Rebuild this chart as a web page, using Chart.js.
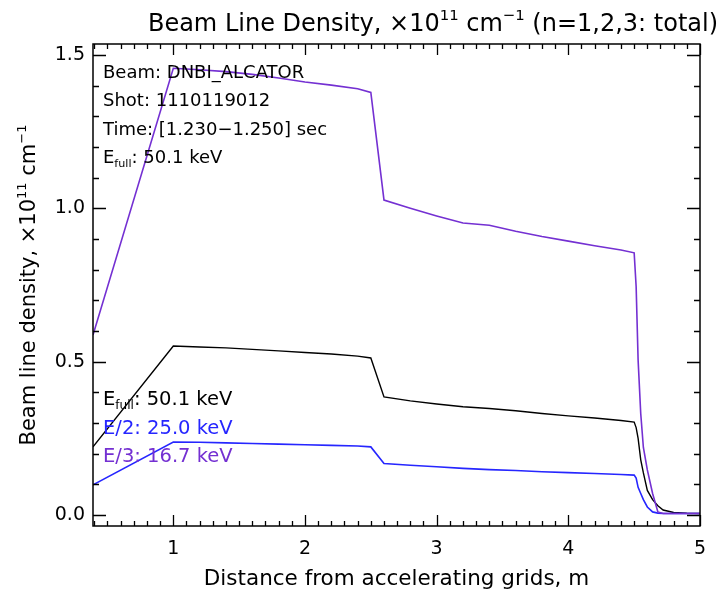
<!DOCTYPE html>
<html>
<head>
<meta charset="utf-8">
<script src="https://cdn.jsdelivr.net/npm/chart.js@4"></script>
<style>
  html, body { margin: 0; padding: 0; background: #fff; }
  #wrap { width: 722px; height: 592px; }
</style>
</head>
<body>
<div id="wrap"><canvas id="chart" width="722" height="592"></canvas></div>
<script>
// distance from accelerating grids, m
const xs = [0.39, 1.0, 1.2, 1.4, 1.6, 1.8, 2.0, 2.2, 2.4, 2.5, 2.6, 2.8, 3.0, 3.2, 3.4, 3.6, 3.8, 4.0,
  4.2, 4.4, 4.5, 4.515, 4.53, 4.55, 4.57, 4.6, 4.64, 4.68, 4.72, 4.8, 4.9, 5.0];

// beam line density, 1e11 cm^-1
const eFull = [0.222, 0.551, 0.548, 0.545, 0.540, 0.535, 0.530, 0.525, 0.518, 0.512, 0.385, 0.372, 0.362,
  0.353, 0.347, 0.340, 0.331, 0.323, 0.316, 0.308, 0.303, 0.285, 0.25, 0.18, 0.137, 0.08, 0.05, 0.03,
  0.016, 0.008, 0.006, 0.005];
const eHalf = [0.098, 0.238, 0.237, 0.235, 0.233, 0.231, 0.229, 0.227, 0.225, 0.222, 0.168, 0.162, 0.157,
  0.152, 0.148, 0.145, 0.141, 0.138, 0.135, 0.132, 0.130, 0.12, 0.09, 0.07, 0.05, 0.026, 0.01, 0.006,
  0.005, 0.005, 0.005, 0.005];
const eThird = [0.587, 1.457, 1.452, 1.446, 1.437, 1.425, 1.412, 1.402, 1.390, 1.378, 1.027, 1.000, 0.975,
  0.952, 0.945, 0.925, 0.908, 0.893, 0.878, 0.864, 0.855, 0.745, 0.505, 0.33, 0.22, 0.147, 0.07, 0.01,
  0.005, 0.005, 0.005, 0.005];

const xLabels = [1, 2, 3, 4, 5];
const yLabels = [0.0, 0.5, 1.0, 1.5];

const BLACK = "#000000";
const BLUE = "#2626ff";
const PURPLE = "#7430d2";
const FONT = "'DejaVu Sans', sans-serif";

function pts(ys) {
  return xs.map((x, i) => ({ x: x, y: ys[i] }));
}

// text with super/subscript pieces
function richWidth(ctx, parts, size) {
  let w = 0;
  parts.forEach(p => {
    const s = p.sup || p.sub ? size * 0.62 : size;
    ctx.font = s + "px " + FONT;
    w += ctx.measureText(p.t).width;
  });
  return w;
}

function drawRich(ctx, parts, x, y, size, color, align) {
  const w = richWidth(ctx, parts, size);
  let cx = align === "center" ? x - w / 2 : align === "right" ? x - w : x;
  ctx.fillStyle = color;
  ctx.textBaseline = "alphabetic";
  ctx.textAlign = "left";
  parts.forEach(p => {
    const s = p.sup || p.sub ? size * 0.62 : size;
    ctx.font = s + "px " + FONT;
    let dy = 0;
    if (p.sup) dy = -size * 0.45;
    if (p.sub) dy = size * 0.22;
    ctx.fillText(p.t, cx, y + dy);
    cx += ctx.measureText(p.t).width;
  });
}

const idlFrame = {
  id: "idlFrame",
  afterDatasetsDraw(chart) {
    const ctx = chart.ctx;
    const a = chart.chartArea;
    const xs_ = chart.scales.x;
    const ys_ = chart.scales.y;
    ctx.save();
    ctx.strokeStyle = BLACK;
    ctx.lineWidth = 1.5;
    ctx.strokeRect(a.left, a.top, a.right - a.left, a.bottom - a.top);

    // inward ticks on all four sides
    ctx.lineWidth = 1.3;
    ctx.beginPath();
    xs_.ticks.forEach(t => {
      const px = Math.round(xs_.getPixelForValue(t.value)) + 0.5;
      const major = Math.abs(t.value - Math.round(t.value)) < 1e-6;
      const len = major ? 11 : 5;
      ctx.moveTo(px, a.bottom); ctx.lineTo(px, a.bottom - len);
      ctx.moveTo(px, a.top); ctx.lineTo(px, a.top + len);
    });
    ys_.ticks.forEach(t => {
      const py = Math.round(ys_.getPixelForValue(t.value)) + 0.5;
      const major = Math.abs(t.value * 2 - Math.round(t.value * 2)) < 1e-6;
      const len = major ? 13 : 6;
      ctx.moveTo(a.left, py); ctx.lineTo(a.left + len, py);
      ctx.moveTo(a.right, py); ctx.lineTo(a.right - len, py);
    });
    ctx.stroke();

    // title
    drawRich(ctx, [
      { t: "Beam Line Density, \u00d710" }, { t: "11", sup: true },
      { t: " cm" }, { t: "\u22121", sup: true },
      { t: " (n=1,2,3: total)" }
    ], 433, 31, 24, BLACK, "center");

    // x axis title
    ctx.font = "21.5px " + FONT;
    ctx.fillStyle = BLACK;
    ctx.textAlign = "center";
    ctx.fillText("Distance from accelerating grids, m", (a.left + a.right) / 2, 585);

    // y axis title
    ctx.save();
    ctx.translate(35, (a.top + a.bottom) / 2);
    ctx.rotate(-Math.PI / 2);
    drawRich(ctx, [
      { t: "Beam line density, \u00d710" }, { t: "11", sup: true },
      { t: " cm" }, { t: "\u22121", sup: true }
    ], 0, 0, 21, BLACK, "center");
    ctx.restore();

    // info block
    const info = [
      [{ t: "Beam: DNBI_ALCATOR" }],
      [{ t: "Shot: 1110119012" }],
      [{ t: "Time: [1.230\u22121.250] sec" }],
      [{ t: "E" }, { t: "full", sub: true }, { t: ": 50.1 keV" }]
    ];
    info.forEach((p, i) => drawRich(ctx, p, 103, 78 + i * 28.4, 18, BLACK, "left"));

    // energy labels
    const leg = [
      [[{ t: "E" }, { t: "full", sub: true }, { t: ": 50.1 keV" }], BLACK],
      [[{ t: "E/2: 25.0 keV" }], BLUE],
      [[{ t: "E/3: 16.7 keV" }], PURPLE]
    ];
    leg.forEach((l, i) => drawRich(ctx, l[0], 103, 405 + i * 28.5, 19.5, l[1], "left"));
    ctx.restore();
  }
};

function stepTicks(scale, lo, hi) {
  const out = [];
  for (let v = Math.round(lo * 10); v <= Math.round(hi * 10); v++) out.push({ value: v / 10 });
  scale.ticks = out;
}

new Chart(document.getElementById("chart"), {
  type: "line",
  data: {
    datasets: [
      { label: "E/3", data: pts(eThird), borderColor: PURPLE, borderWidth: 1.6, pointRadius: 0, tension: 0 },
      { label: "E/2", data: pts(eHalf), borderColor: BLUE, borderWidth: 1.6, pointRadius: 0, tension: 0 },
      { label: "Efull", data: pts(eFull), borderColor: BLACK, borderWidth: 1.4, pointRadius: 0, tension: 0 }
    ]
  },
  options: {
    responsive: false,
    animation: false,
    layout: { padding: { left: 0, top: 44, right: 22, bottom: 0 } },
    plugins: { legend: { display: false }, tooltip: { enabled: false } },
    scales: {
      x: {
        type: "linear",
        min: 0.39,
        max: 5.0,
        grid: { display: false, drawTicks: false },
        border: { display: false },
        afterBuildTicks: s => stepTicks(s, 0.4, 5.0),
        afterFit: s => { s.height = 66; },
        ticks: {
          autoSkip: false,
          maxRotation: 0,
          padding: 12,
          color: BLACK,
          font: { family: FONT, size: 19 },
          callback: v => (xLabels.some(l => Math.abs(l - v) < 1e-6) ? String(Math.round(v)) : "")
        }
      },
      y: {
        type: "linear",
        min: -0.036,
        max: 1.536,
        grid: { display: false, drawTicks: false },
        border: { display: false },
        afterBuildTicks: s => stepTicks(s, 0.0, 1.5),
        afterFit: s => { s.width = 93; },
        ticks: {
          autoSkip: false,
          padding: 8,
          color: BLACK,
          font: { family: FONT, size: 19 },
          callback: v => (yLabels.some(l => Math.abs(l - v) < 1e-6) ? v.toFixed(1) : "")
        }
      }
    }
  },
  plugins: [idlFrame]
});
</script>
</body>
</html>
